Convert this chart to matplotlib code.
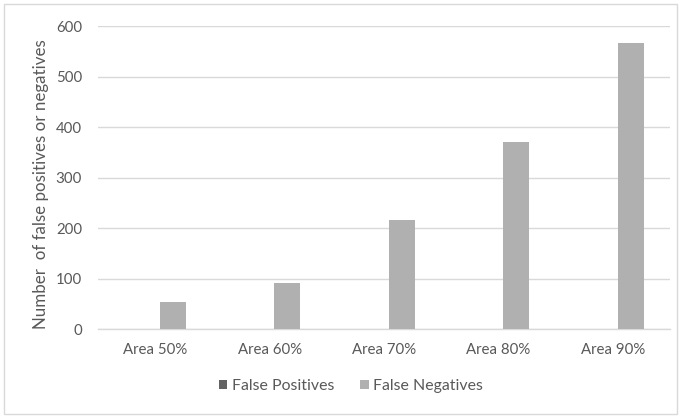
import matplotlib.pyplot as plt
import numpy as np
from matplotlib.patches import Rectangle

categories = ["Area 50%", "Area 60%", "Area 70%", "Area 80%", "Area 90%"]
false_positives = [0, 0, 0, 0, 0]
false_negatives = [54, 91, 216, 371, 567]
y_ticks = [0, 100, 200, 300, 400, 500, 600]

plt.rcParams['font.family'] = ['Lato', 'DejaVu Sans']
text_color = '#595959'

fig = plt.figure(figsize=(6.81, 4.20), dpi=100)
W, H = 681, 420
ax = fig.add_axes([98 / W, 1 - 329.3 / H, (670 - 98) / W, (329.3 - 26) / H])

x = np.arange(len(categories))
width = 0.227
offset = 0.156
ax.bar(x - offset, false_positives, width, color='#636363', label='False Positives', zorder=3)
ax.bar(x + offset, false_negatives, width, color='#b0b0b0', label='False Negatives', zorder=3)

ax.set_xlim(-0.5, len(categories) - 0.5)
ax.set_ylim(0, 600)
ax.set_yticks(y_ticks)
ax.set_yticklabels([str(t) for t in y_ticks])
ax.set_xticks(x)
ax.set_xticklabels(categories)
ax.yaxis.grid(True, color='#d9d9d9', linewidth=1.0, zorder=0)
ax.set_axisbelow(True)
for s in ['top', 'right', 'left']:
    ax.spines[s].set_visible(False)
ax.spines['bottom'].set_color('#d9d9d9')
ax.spines['bottom'].set_linewidth(1.0)
ax.tick_params(axis='both', length=0, colors=text_color, labelsize=10.8)
ax.tick_params(axis='y', pad=11.5)
ax.tick_params(axis='x', pad=10)

fig.text(41 / W, 1 - 184 / H, "Number  of false positives or negatives", rotation=90,
         ha='center', va='center', color=text_color, fontsize=12.2)

leg = fig.legend(loc='center', bbox_to_anchor=(351 / W, 1 - 386 / H), ncol=2, frameon=False,
                 fontsize=11.4, handlelength=0.55, handleheight=0.55, handletextpad=0.3,
                 columnspacing=1.6)
for t in leg.get_texts():
    t.set_color(text_color)

fig.patches.append(Rectangle((4 / W, 6 / H), 673 / W, 410 / H, transform=fig.transFigure,
                             fill=False, edgecolor='#d9d9d9', linewidth=1.0))

fig.savefig('out.png', dpi=100)
